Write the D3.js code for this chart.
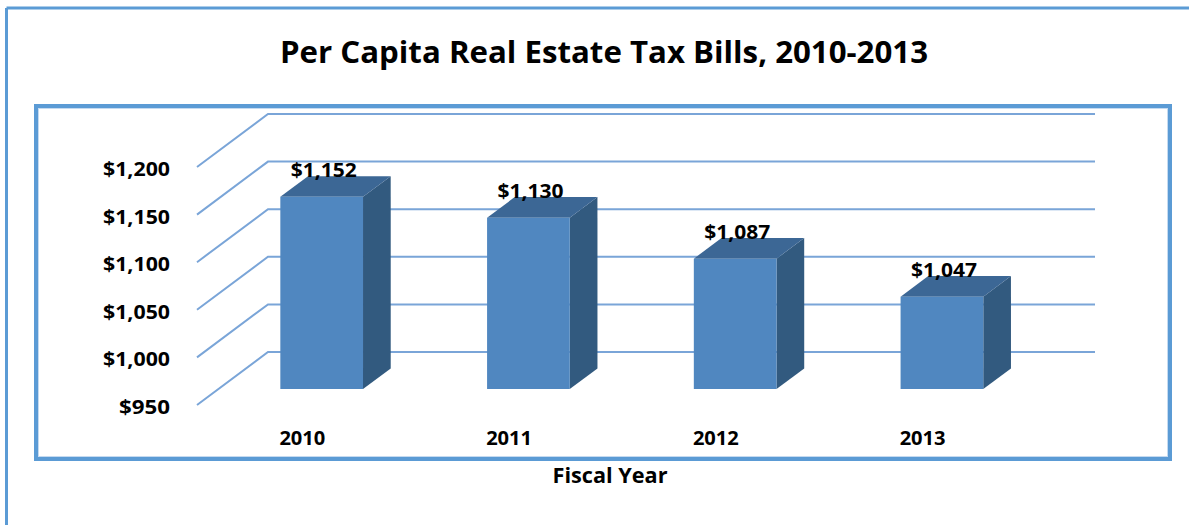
<!DOCTYPE html>
<html>
<head>
<meta charset="utf-8">
<script src="https://cdn.jsdelivr.net/npm/d3@7"></script>
<style>
  html, body { margin: 0; padding: 0; background: #fff; }
  svg { display: block; }
  text { font-family: "Open Sans", Lato, sans-serif; font-weight: bold; fill: #000; }
</style>
</head>
<body>
<svg id="chart" width="1189" height="525"></svg>
<script>
// ---- data ----
const years = ["2010", "2011", "2012", "2013"];
const taxBills = [1152, 1130, 1087, 1047];
const yTicks = [950, 1000, 1050, 1100, 1150, 1200];
const valueLabels = ["$1,152", "$1,130", "$1,087", "$1,047"];
const tickLabels = ["$950", "$1,000", "$1,050", "$1,100", "$1,150", "$1,200"];
const titleText = "Per Capita Real Estate Tax Bills, 2010-2013";
const xAxisTitle = "Fiscal Year";

// ---- layout ----
const svg = d3.select("#chart");
const W = 1189, H = 525;
const depthDX = 71, depthDY = -53;   // offset of the back wall from the front plane
const barZ0 = 0.3, barZ1 = 0.69;     // bar depth (fraction of full depth)

const x = d3.scaleBand().domain(years).range([197, 1024]).paddingInner(0).paddingOuter(0);
const y = d3.scaleLinear().domain([950, 1200]).range([405, 167]);
const P = (px, val, z) => [px + depthDX * z, y(val) + depthDY * z];

const gridColor = "#7AA5D8";
const borderColor = "#5B9BD5";

// outer frame (top and left)
svg.append("line").attr("x1", 6.5).attr("y1", 8).attr("x2", W).attr("y2", 8)
  .attr("stroke", borderColor).attr("stroke-width", 3);
svg.append("line").attr("x1", 6.5).attr("y1", 8).attr("x2", 6.5).attr("y2", H)
  .attr("stroke", borderColor).attr("stroke-width", 3);

// title
svg.append("text").attr("x", 604).attr("y", 63).attr("text-anchor", "middle")
  .attr("font-size", 30).attr("textLength", 648).attr("lengthAdjust", "spacingAndGlyphs")
  .text(titleText);

// inner plot frame
svg.append("rect").attr("x", 36).attr("y", 106).attr("width", 1134).attr("height", 353)
  .attr("fill", "none").attr("stroke", borderColor).attr("stroke-width", 4);
svg.append("rect").attr("x", 38.5).attr("y", 108.5).attr("width", 1129).attr("height", 348)
  .attr("fill", "none").attr("stroke", "#C5DAF0").attr("stroke-width", 1);

// gridlines: left side wall diagonals + back wall horizontals
const grid = svg.append("g");
const x0 = x.range()[0], x1 = x.range()[1];
yTicks.forEach(t => {
  const f = P(x0, t, 0), b = P(x0, t, 1), e = P(x1, t, 1);
  grid.append("polyline")
    .attr("points", [f, b, e].map(p => p.join(",")).join(" "))
    .attr("fill", "none").attr("stroke", gridColor).attr("stroke-width", 2);
});

// y tick labels (front plane)
svg.append("g").selectAll("text").data(yTicks).join("text")
  .attr("x", 170).attr("y", d => y(d) + 9).attr("text-anchor", "end")
  .attr("font-size", 19.5)
  .attr("textLength", (d, i) => tickLabels[i].length === 4 ? 51 : 67)
  .attr("lengthAdjust", "spacingAndGlyphs")
  .text((d, i) => tickLabels[i]);

// bars
const bars = svg.append("g");
const bw = x.bandwidth() * 0.4;
years.forEach((yr, i) => {
  const v = taxBills[i];
  const bx = x(yr) + (x.bandwidth() - bw) / 2;
  const ftl = P(bx, v, barZ0), ftr = P(bx + bw, v, barZ0);
  const fbl = P(bx, 950, barZ0), fbr = P(bx + bw, 950, barZ0);
  const btl = P(bx, v, barZ1), btr = P(bx + bw, v, barZ1), bbr = P(bx + bw, 950, barZ1);
  // side
  bars.append("polygon").attr("points", [ftr, btr, bbr, fbr].map(p => p.join(",")).join(" "))
    .attr("fill", "#325A7F");
  // top
  bars.append("polygon").attr("points", [ftl, ftr, btr, btl].map(p => p.join(",")).join(" "))
    .attr("fill", "#3C6795");
  // front
  bars.append("polygon").attr("points", [ftl, ftr, fbr, fbl].map(p => p.join(",")).join(" "))
    .attr("fill", "#5087C0");
  // value label
  svg.append("text").attr("x", (ftl[0] + ftr[0]) / 2 + 2).attr("y", ftl[1] - 19.5)
    .attr("text-anchor", "middle").attr("font-size", 19.5)
    .attr("textLength", 66).attr("lengthAdjust", "spacingAndGlyphs")
    .text(valueLabels[i]);
});

// category labels
svg.append("g").selectAll("text").data(years).join("text")
  .attr("x", d => x(d) + x.bandwidth() / 2 + 2).attr("y", 445)
  .attr("text-anchor", "middle").attr("font-size", 19.5)
  .attr("textLength", 46).attr("lengthAdjust", "spacingAndGlyphs")
  .text(d => d);

// x-axis title
svg.append("text").attr("x", 610).attr("y", 483).attr("text-anchor", "middle")
  .attr("font-size", 21).attr("textLength", 115).attr("lengthAdjust", "spacingAndGlyphs")
  .text(xAxisTitle);
</script>
</body>
</html>
